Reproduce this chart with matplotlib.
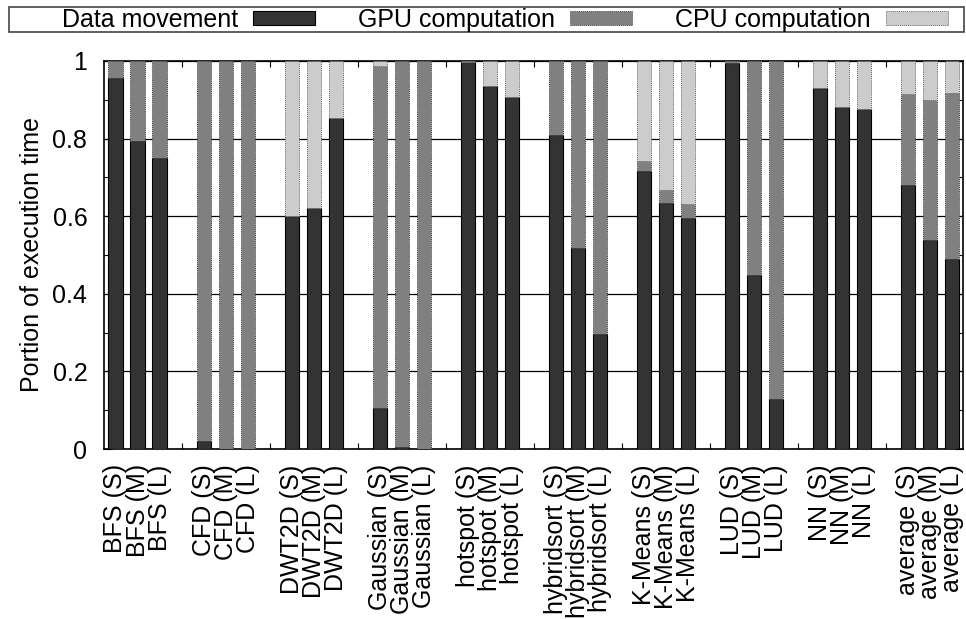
import matplotlib
matplotlib.use("Agg")
import matplotlib.pyplot as plt
from matplotlib.patches import Patch, Rectangle
from matplotlib.ticker import MultipleLocator, FixedLocator

plt.rcParams['font.family'] = ['Liberation Sans', 'DejaVu Sans']
plt.rcParams['font.size'] = 18

# Data (fraction of execution time)
benchmarks = ['BFS', 'CFD', 'DWT2D', 'Gaussian', 'hotspot', 'hybridsort',
              'K-Means', 'LUD', 'NN', 'average']
sizes = ['S', 'M', 'L']

data_movement = [0.955, 0.794, 0.749, 0.020, 0.001, 0.0, 0.601, 0.622, 0.853,
                 0.107, 0.004, 0.0, 0.997, 0.936, 0.907, 0.808, 0.518, 0.296,
                 0.716, 0.635, 0.595, 0.995, 0.448, 0.129, 0.930, 0.882, 0.875,
                 0.681, 0.538, 0.489]
gpu_comp = [0.045, 0.206, 0.251, 0.980, 0.999, 1.0, 0.0, 0.0, 0.0,
            0.881, 0.996, 1.0, 0.0, 0.0, 0.0, 0.192, 0.482, 0.704,
            0.026, 0.033, 0.037, 0.005, 0.552, 0.871, 0.0, 0.0, 0.0,
            0.235, 0.362, 0.429]
cpu_comp = [0.0, 0.0, 0.0, 0.0, 0.0, 0.0, 0.399, 0.378, 0.147,
            0.012, 0.0, 0.0, 0.003, 0.064, 0.093, 0.0, 0.0, 0.0,
            0.258, 0.332, 0.368, 0.0, 0.0, 0.0, 0.070, 0.118, 0.125,
            0.084, 0.100, 0.082]

labels = [f"{b} ({s})" for b in benchmarks for s in sizes]
xpos = [4 * g + j for g in range(len(benchmarks)) for j in range(len(sizes))]

C_DM, C_GPU, C_CPU = '#333333', '#808080', '#cccccc'
W = 0.64

fig = plt.figure(figsize=(9.66, 6.19), dpi=100)
ax = fig.add_axes([0.1077, 0.2746, 0.8893, 0.6269])

bottom_gpu = data_movement
bottom_cpu = [a + b for a, b in zip(data_movement, gpu_comp)]

ax.bar(xpos, data_movement, W, color=C_DM, edgecolor='black', linewidth=0.8, zorder=3)
ax.bar(xpos, gpu_comp, W, bottom=bottom_gpu, color=C_GPU, edgecolor='#444444',
       linewidth=0.7, linestyle=(0, (1, 1)), zorder=3)
ax.bar(xpos, cpu_comp, W, bottom=bottom_cpu, color=C_CPU, edgecolor='#666666',
       linewidth=0.7, linestyle=(0, (1, 1)), zorder=3)

ax.set_xlim(-0.52, 38.49)
ax.set_ylim(0, 1)

# y axis
ax.set_yticks([0, 0.2, 0.4, 0.6, 0.8, 1.0])
ax.set_yticklabels(['0', '0.2', '0.4', '0.6', '0.8', '1'])
ax.yaxis.set_minor_locator(MultipleLocator(0.1))
ax.tick_params(axis='y', which='major', direction='in', length=6, width=0.8,
               right=True, pad=12)
ax.tick_params(axis='y', which='minor', direction='in', length=3, width=0.8,
               right=True)
ax.grid(axis='y', which='major', color='black', linewidth=0.9, zorder=0)
ax.set_axisbelow(True)

# x axis: labels at bars, small ticks between groups
ax.set_xticks(xpos)
ax.set_xticklabels(labels, rotation=90, ha='center', va='top')
ax.xaxis.set_minor_locator(FixedLocator([4 * g + 3 for g in range(len(benchmarks) - 1)]))
ax.tick_params(axis='x', which='major', length=0, pad=11)
ax.tick_params(axis='x', which='minor', direction='in', length=4, width=0.8,
               top=True, bottom=True)

for s in ax.spines.values():
    s.set_linewidth(1.2)

ax.set_ylabel('Portion of execution time', labelpad=6)

# legend (gnuplot style: text first, sample after, boxed across the top)
handles = [
    Patch(facecolor=C_DM, edgecolor='black', linewidth=0.8),
    Patch(facecolor=C_GPU, edgecolor='#444444', linewidth=0.7, linestyle=(0, (1, 1))),
    Patch(facecolor=C_CPU, edgecolor='#666666', linewidth=0.7, linestyle=(0, (1, 1))),
]
fig.legend(handles, ['Data movement', 'GPU computation', 'CPU computation'],
           ncol=3, markerfirst=False, frameon=False, loc='center right',
           bbox_to_anchor=(948 / 966, 1 - 20 / 619), borderpad=0,
           borderaxespad=0, handlelength=2.5, handleheight=0.5,
           handletextpad=0.6, columnspacing=1.7)
fig.patches.append(Rectangle((9 / 966, 1 - 32 / 619), 955 / 966, 25 / 619,
                             transform=fig.transFigure, fill=False,
                             edgecolor='#444444', linewidth=1.2))

fig.savefig('out.png', dpi=100)
